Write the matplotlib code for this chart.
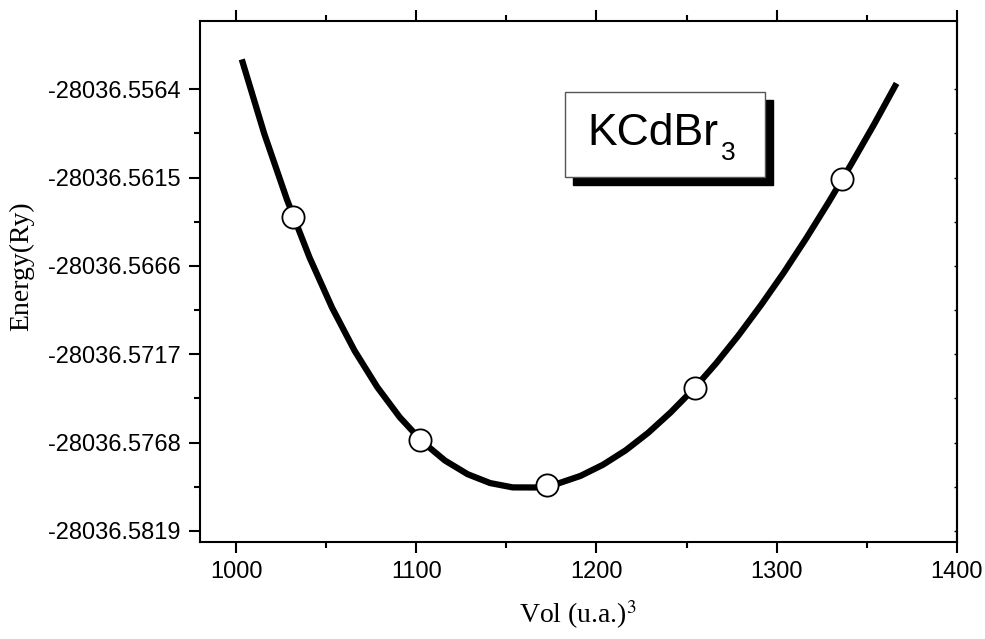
import numpy as np
import matplotlib.pyplot as plt
from matplotlib.patches import Rectangle
from matplotlib.ticker import MultipleLocator

plt.rcParams['font.family'] = ['Liberation Sans', 'DejaVu Sans']
plt.rcParams['mathtext.fontset'] = 'stix'

# calculated points (volume in u.a.^3, total energy in Ry)
vol = [1031.8, 1102.1, 1172.4, 1254.6, 1336.4]
energy = [-28036.56376, -28036.57665, -28036.57925, -28036.57366, -28036.56160]

# fitted equation-of-state curve
fit_vol = [1003.2, 1015.7, 1028.3, 1040.8, 1053.3, 1065.8, 1078.4, 1090.9,
           1103.4, 1115.9, 1128.5, 1141.0, 1153.5, 1166.1, 1178.6, 1191.1,
           1203.6, 1216.2, 1228.7, 1241.2, 1253.8, 1266.3, 1278.8, 1291.3,
           1303.9, 1316.4, 1328.9, 1341.4, 1354.0, 1366.5]
fit_energy = [-28036.554675, -28036.558976, -28036.562778, -28036.566113,
              -28036.569010, -28036.571497, -28036.573600, -28036.575342,
              -28036.576747, -28036.577834, -28036.578625, -28036.579137,
              -28036.579387, -28036.579392, -28036.579166, -28036.578725,
              -28036.578081, -28036.577247, -28036.576234, -28036.575054,
              -28036.573718, -28036.572234, -28036.570611, -28036.568860,
              -28036.566987, -28036.565001, -28036.562909, -28036.560716,
              -28036.558431, -28036.556059]

yticks = [-28036.5564, -28036.5615, -28036.5666, -28036.5717, -28036.5768, -28036.5819]
xticks = [1000, 1100, 1200, 1300, 1400]

fig = plt.figure(figsize=(9.85, 6.39), dpi=100)
ax = fig.add_axes([0.2030, 0.1518, 0.7685, 0.8153])

ax.plot(fit_vol, fit_energy, color='k', lw=4.5, solid_capstyle='butt',
        solid_joinstyle='round', zorder=2)
ax.plot(vol, energy, 'o', ms=16, mfc='white', mec='k', mew=1.3, zorder=3)

ax.set_xlim(980, 1400)
ax.set_ylim(-28036.58254, -28036.55246)
ax.set_xticks(xticks)
ax.set_xticklabels([str(v) for v in xticks])
ax.set_yticks(yticks)
ax.set_yticklabels([f'{v:.4f}' for v in yticks])
ax.xaxis.set_minor_locator(MultipleLocator(50))
ax.set_yticks([y - 0.00255 for y in yticks[:-1]], minor=True)

for s in ax.spines.values():
    s.set_linewidth(1.5)
ax.tick_params(which='both', direction='out', width=1.5, labelsize=17, top=True)
ax.tick_params(which='major', length=8, pad=6)
ax.tick_params(which='minor', length=4)

# small inward ticks on the right side
sec = ax.secondary_yaxis('right')
sec.set_yticks(yticks)
sec.set_yticks([y - 0.00255 for y in yticks[:-1]], minor=True)
sec.tick_params(which='both', direction='in', length=2, width=1, labelright=False)
sec.spines['right'].set_linewidth(1.5)

ax.set_xlabel(r'Vol (u.a.)$^3$', family='Liberation Serif', fontsize=20, labelpad=11)
ax.set_ylabel('Energy(Ry)', family='Liberation Serif', fontsize=20)
ax.yaxis.set_label_coords(-0.219, 0.53)

# compound label with drop shadow
fig.patches.append(Rectangle((0.5817, 0.7100), 0.2030, 0.1340, transform=fig.transFigure,
                             facecolor='k', edgecolor='k', zorder=4))
fig.patches.append(Rectangle((0.5736, 0.7225), 0.2030, 0.1340, transform=fig.transFigure,
                             facecolor='white', edgecolor='#555555', lw=1.0, zorder=5))
fig.text(0.5959, 0.7731, 'KCdBr', fontsize=32, ha='left', va='baseline', zorder=6)
fig.text(0.7320, 0.7496, '3', fontsize=19, ha='left', va='baseline', zorder=6)

fig.savefig('out.png')
